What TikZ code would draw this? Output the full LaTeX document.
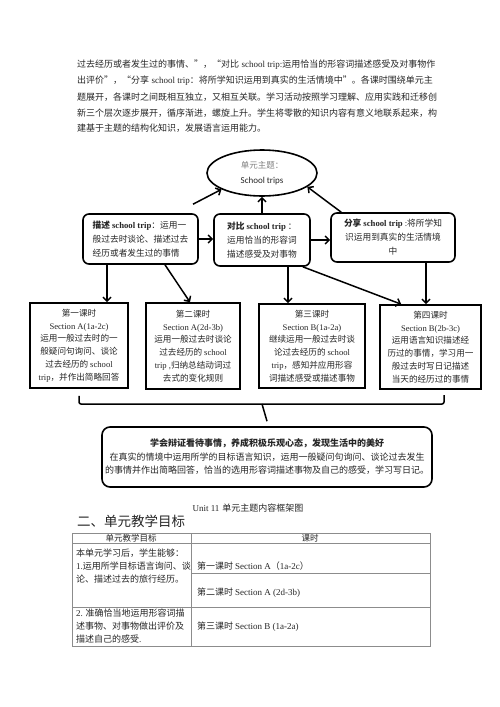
\documentclass[tikz,border=0pt]{standalone}
\usepackage{fontspec}
\setmainfont{Noto Sans CJK SC}
\newfontfamily\latf{Liberation Serif}
\newfontfamily\calf{Carlito}
\usetikzlibrary{arrows.meta,shapes.geometric}
\XeTeXlinebreaklocale "zh"
\XeTeXlinebreakskip=0pt plus 1pt
\newcommand\ltn[1]{{\latf #1}}
\newcommand\fsz[2]{\fontsize{#1}{#2}\selectfont}
\newcommand\jline[1]{\hbox to 363pt{\spaceskip=2.4pt\relax #1}}
\definecolor{txt}{gray}{0.15}
\definecolor{tabline}{gray}{0.55}
\begin{document}
\begin{tikzpicture}[x=1pt,y=-1pt,
  every node/.style={text=txt},
  body/.style={anchor=west,inner sep=0pt,font=\fsz{9}{12}},
  upbox/.style={draw=black,line width=1.6pt,rounded corners=6pt,align=left,inner sep=2pt,font=\fsz{8.7}{14}},
  lowbox/.style={draw=black,line width=1.6pt,align=center,inner sep=2pt,font=\fsz{8.6}{12.8}},
  arr/.style={-{Straight Barb[length=4pt,width=8pt]},line width=1.5pt},
  conn/.style={line width=1.5pt},
  cell/.style={anchor=west,align=left,inner sep=0pt,font=\fsz{9}{13}},
  tab/.style={draw=tabline,line width=0.8pt}]
\useasboundingbox (0,0) rectangle (500,707);
\fill[white] (0,0) rectangle (500,707);

% paragraph
\node[body] (p1) at (77,65) {\jline{过去经历或者发生过的事情、”，“对比 \ltn{school trip:}运用恰当的形容词描述感受及对事物作}};
\node[body] (p2) at (77,81) {\jline{出评价”，“分享 \ltn{school trip}：将所学知识运用到真实的生活情境中”。各课时围绕单元主}};
\node[body] (p3) at (77,97) {\jline{题展开，各课时之间既相互独立，又相互关联。学习活动按照学习理解、应用实践和迁移创}};
\node[body] (p4) at (77,113) {\jline{新三个层次逐步展开，循序渐进，螺旋上升。学生将零散的知识内容有意义地联系起来，构}};
\node[body] (p5) at (77,128) {建基于主题的结构化知识，发展语言运用能力。};

% ellipse
\node[ellipse,draw=black,line width=1.6pt,minimum width=110pt,minimum height=46pt,inner sep=0pt,align=center,font=\fsz{8.5}{15}] (el) at (262,173) {{\color{gray}单元主题：}\\{\calf\fontsize{9}{15}\selectfont School trips}};

% upper boxes
\node[upbox,minimum width=115pt,minimum height=50pt] (b1) at (140.5,239) {{\bfseries 描述 \ltn{school trip}}：运用一\\般过去时谈论、描述过去\\经历或者发生过的事情};
\node[upbox,minimum width=96pt,minimum height=52pt] (b2) at (262,240) {{\bfseries 对比 \ltn{school trip}} ：\\运用恰当的形容词\\描述感受及对事物};
\node[upbox,align=center,minimum width=124pt,minimum height=49pt] (b3) at (393,237.5) {{\bfseries 分享 \ltn{school trip}} \ltn{:}将所学知\\识运用到真实的生活情境\\中};

% lower boxes
\node[lowbox,minimum width=98pt,minimum height=85pt] (L1) at (79,345.5) {第一课时\\\ltn{Section A(1a-2c)}\\运用一般过去时的一\\般疑问句询问、谈论\\过去经历的 \ltn{school}\\\ltn{trip}，并作出简略回答};
\node[lowbox,minimum width=94pt,minimum height=86pt] (L2) at (193,346) {第二课时\\\ltn{Section A(2d-3b)}\\运用一般过去时谈论\\过去经历的 \ltn{school}\\\ltn{trip ,}归纳总结动词过\\去式的变化规则};
\node[lowbox,minimum width=106pt,minimum height=84pt] (L3) at (312,346) {第三课时\\\ltn{Section B(1a-2a)}\\继续运用一般过去时谈\\论过去经历的 \ltn{school}\\\ltn{trip}，感知并应用形容\\词描述感受或描述事物};
\node[lowbox,minimum width=101pt,minimum height=84pt] (L4) at (430.5,347) {第四课时\\\ltn{Section B(2b-3c)}\\运用语言知识描述经\\历过的事情，学习用一\\般过去时写日记描述\\当天的经历过的事情};

% bottom box
\node[draw=black,line width=1.6pt,rounded corners=8pt,minimum width=330pt,minimum height=60pt,align=center,inner sep=2pt,font=\fsz{9}{13.5}] (bot) at (267,457) {{\bfseries 学会辩证看待事情，养成积极乐观心态，发现生活中的美好}\\在真实的情境中运用所学的目标语言知识，运用一般疑问句询问、谈论过去发生\\的事情并作出简略回答，恰当的选用形容词描述事物及自己的感受，学习写日记。};

% connectors
\coordinate (s1) at ([xshift=52.5pt,yshift=9pt]b1.north);
\draw[arr] (s1) -- (el.-158);
\draw[arr] (b2.north) -- (el.south);
\draw[arr] ([xshift=11pt]b3.north west) -- (el.-17);
\draw[arr] (b1.east) -- (b1.east -| b2.west);
\draw[arr] (b2.east) -- (b2.east -| b3.west);
\draw[arr] ([xshift=-33.5pt]b1.south) -- ([xshift=-33.5pt]b1.south |- L1.north);
\draw[arr] ([xshift=24.5pt]b1.south) -- ([xshift=-3pt]L2.north);
\draw[arr] ([xshift=26pt]b2.south) -- ([xshift=26pt]b2.south |- L3.north);
\draw[arr] ([xshift=-8pt]b2.south east) -- ([xshift=22pt]L4.north west);
\draw[arr] ([xshift=33pt]b3.south) -- ([xshift=33pt]b3.south |- L4.north);

% bracket
\coordinate (brL) at ([yshift=-7pt]L1.south);
\coordinate (brR) at (444,395);
\coordinate (brH) at (262,404);
\draw[conn,rounded corners=2pt] (brL) -- (brL |- brH) -- (brR |- brH) -- (brR);
\draw[conn] (brH) -- ([yshift=5pt]bot.north);

% caption and heading
\node[inner sep=0pt,font=\fsz{9}{12}] (cap) at (248,508) {\ltn{Unit 11}\hspace{3pt}单元主题内容框架图};
\node[anchor=west,inner sep=0pt,font=\fsz{13.5}{16}] (head) at (77,521) {二、单元教学目标};

% table
\draw[tab] (72,533) rectangle (430,646);
\draw[tab] (72,543) -- (430,543);
\draw[tab] (72,607) -- (430,607);
\draw[tab] (191,573) -- (430,573);
\draw[tab] (191,533) -- (191,646);
\node[inner sep=0pt,font=\fsz{8.5}{11}] (h1) at (131,538) {单元教学目标};
\node[inner sep=0pt,font=\fsz{8.5}{11}] (h2) at (310,538) {课时};
\node[cell] (c11) at (76,566) {本单元学习后，学生能够：\\\ltn{1.}运用所学目标语言询问、谈\\论、描述过去的旅行经历。};
\node[cell] (c21) at (76,626) {\ltn{2.} 准确恰当地运用形容词描\\述事物、对事物做出评价及\\描述自己的感受\ltn{.}};
\node[cell] (c12) at (197,566) {第一课时 \ltn{Section A}（\ltn{1a-2c}）};
\node[cell] (c13) at (197,593) {第二课时 \ltn{Section A (2d-3b)}};
\node[cell] (c22) at (197,627) {第三课时 \ltn{Section B (1a-2a)}};
\end{tikzpicture}
\end{document}
